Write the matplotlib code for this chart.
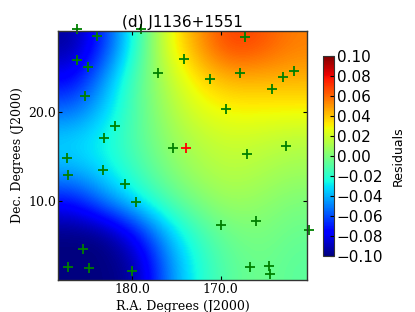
import numpy as np
import matplotlib
matplotlib.use("Agg")
import matplotlib.pyplot as plt

# residual field, coarse grid (rows top->bottom, cols left->right)
resid = np.array([
    [-0.095, -0.065, -0.020, 0.025, 0.050, 0.070, 0.065, 0.055],
    [-0.078, -0.045, -0.010, 0.015, 0.035, 0.045, 0.045, 0.045],
    [-0.055, -0.035, -0.010, 0.010, 0.025, 0.030, 0.030, 0.030],
    [-0.032, -0.025, -0.010, 0.005, 0.015, 0.020, 0.018, 0.015],
    [-0.040, -0.030, -0.015, 0.000, 0.010, 0.015, 0.012, 0.008],
    [-0.075, -0.050, -0.030, -0.012, 0.000, 0.008, 0.005, 0.000],
    [-0.100, -0.100, -0.075, -0.038, -0.015, -0.003, 0.000, -0.005],
    [-0.100, -0.100, -0.095, -0.050, -0.022, -0.008, -0.003, -0.008],
])

# calibrator positions (R.A., Dec.)
ra = [186.22, 183.99, 179.02, 186.22, 184.98, 185.35, 177.13, 174.12, 181.92,
      183.20, 175.40, 187.42, 187.31, 183.31, 180.83, 179.55, 185.54, 187.31,
      184.90, 180.00, 167.22, 171.18, 167.76, 162.93, 161.69, 164.20, 169.42,
      162.61, 167.03, 170.00, 165.97, 160.05, 166.69, 164.54, 164.39]
dec = [29.39, 28.64, 29.36, 25.86, 25.11, 21.87, 24.49, 26.01, 18.42,
       17.14, 15.94, 14.85, 12.93, 13.46, 11.95, 9.85, 4.59, 2.56,
       2.41, 2.14, 28.46, 23.79, 24.49, 24.01, 24.63, 22.59, 20.43,
       16.23, 15.30, 7.26, 7.75, 6.73, 2.56, 2.67, 1.80]

# target source
target_ra = [173.93]
target_dec = [15.94]

ra_lim = (188.44, 160.2)
dec_lim = (1.09, 29.17)

fig = plt.figure(figsize=(4.15, 3.12), dpi=100)
ax = fig.add_axes([0.139, 0.1026, 0.6015, 0.798])
im = ax.imshow(resid, cmap="jet", vmin=-0.1, vmax=0.1, origin="upper",
               extent=(ra_lim[0], ra_lim[1], dec_lim[0], dec_lim[1]),
               interpolation="bicubic", aspect="auto")
ax.plot(ra, dec, "+", color="#008000", ms=7, mew=1.3, ls="none", clip_on=False)
ax.plot(target_ra, target_dec, "+", color="red", ms=7, mew=1.3, ls="none", clip_on=False)
ax.set_xlim(*ra_lim)
ax.set_ylim(*dec_lim)
ax.set_xticks([180.0, 170.0])
ax.set_yticks([10.0, 20.0])
ax.set_xticklabels(["180.0", "170.0"], family="DejaVu Serif", fontsize=9)
ax.set_yticklabels(["10.0", "20.0"], family="DejaVu Serif", fontsize=9)
ax.tick_params(direction="in", top=True, right=True, length=3, width=0.8, pad=2)
ax.tick_params(axis="y", pad=1)
for s in ax.spines.values():
    s.set_linewidth(1.0)
    s.set_color("#333333")
ax.set_xlabel("R.A. Degrees (J2000)", family="DejaVu Serif", fontsize=9, labelpad=3)
ax.set_ylabel("Dec. Degrees (J2000)", family="DejaVu Serif", fontsize=9, labelpad=3)
ax.set_title("(d) J1136+1551", fontsize=11, pad=3)

cax = fig.add_axes([0.779, 0.1795, 0.0258, 0.641])
cb = fig.colorbar(im, cax=cax, ticks=np.arange(-0.10, 0.101, 0.02))
cb.outline.set_linewidth(0.8)
cb.outline.set_edgecolor("#333333")
cax.tick_params(direction="in", length=3, width=0.8, labelsize=11, pad=2)
cb.set_label("Residuals", fontsize=9, labelpad=6)

fig.savefig("out.png", dpi=100)
